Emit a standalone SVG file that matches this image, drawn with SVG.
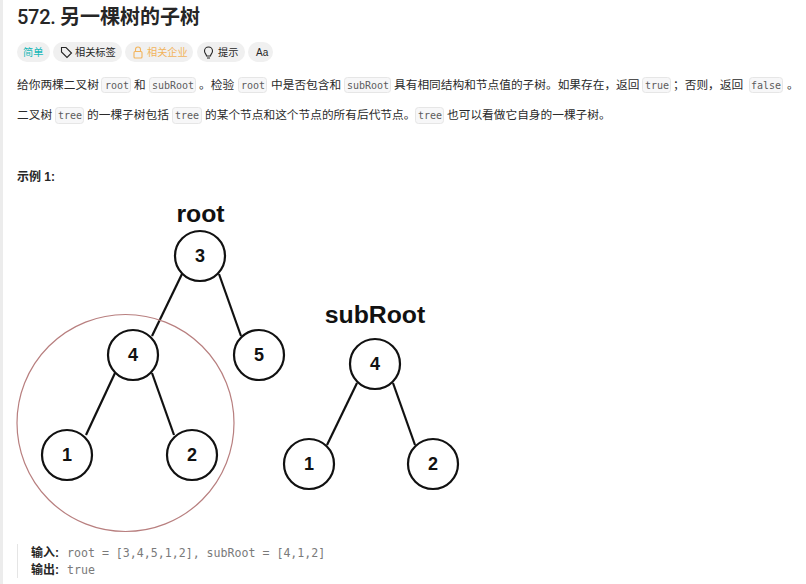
<svg xmlns="http://www.w3.org/2000/svg" width="806" height="584" viewBox="0 0 806 584">
<style>
text{font-family:"Liberation Sans","Noto Sans CJK SC",sans-serif;fill:#262626}
.p{font-size:11.7px;fill:#2a2a2a}
.c{font-family:"DejaVu Sans Mono","Liberation Mono",monospace;font-size:10px;fill:#5c5c5c}
.chip{fill:#f7f7f8;stroke:#e6e6e6;stroke-width:1}
.pill{fill:#f0f0f0}
.t{font-size:10.2px}
.n{fill:#fff;stroke:#111;stroke-width:2.2}
.e{stroke:#111;stroke-width:2.2;fill:none}
.l{font-size:18px;font-weight:700;fill:#111;text-anchor:middle}
.h{font-size:24.8px;font-weight:700;fill:#111;text-anchor:middle}
.m{font-family:"DejaVu Sans Mono","Liberation Mono",monospace;font-size:11.6px;fill:#7a7a7a}
.b{font-size:12px;font-weight:700;fill:#262626}
</style>
<rect width="806" height="584" fill="#fff"/>
<rect x="0" y="0" width="3" height="584" fill="#ececec"/>
<g id="title"><text x="17" y="24" font-size="20" font-weight="700" fill="#262626"><tspan style="font-family:Roboto,sans-serif;font-weight:500" letter-spacing="-0.3">572.</tspan><tspan x="60">另一棵树的子树</tspan></text></g>
<g id="tags">
<rect class="pill" x="17" y="42" width="33" height="20" rx="10"/><text class="t" x="23" y="56" style="fill:#17b8b8">简单</text>
<rect class="pill" x="53" y="42" width="69" height="20" rx="10"/>
<path d="M61.500 47.500h4.500l5.500 5.500-4.500 4.500-5.500-5.500z" fill="none" stroke="#262626" stroke-width="1.100"/>
<text class="t" x="75" y="56">相关标签</text>
<rect class="pill" x="125" y="42" width="68" height="20" rx="10"/>
<rect x="134" y="51.500" width="8" height="6.500" rx="1" fill="none" stroke="#f2b45c" stroke-width="1.100"/><path d="M135.500 51.500v-2a2.500 2.500 0 0 1 5 0v2" fill="none" stroke="#f2b45c" stroke-width="1.100"/>
<text class="t" x="147" y="56" style="fill:#f2b45c">相关企业</text>
<rect class="pill" x="197" y="42" width="48" height="20" rx="10"/>
<path d="M206.500 56c0-2-2-2.500-2-5a4 4 0 0 1 8 0c0 2.500-2 3-2 5zM207 58h3" fill="none" stroke="#262626" stroke-width="1.100"/>
<text class="t" x="218" y="56">提示</text>
<rect class="pill" x="248" y="42" width="25" height="20" rx="10"/>
<text x="256" y="56" font-size="10">Aa</text>
</g>
<g id="description">
<text class="p" x="17" y="89">给你两棵二叉树</text>
<rect class="chip" x="101.500" y="77.500" width="29" height="15" rx="3"/><text class="c" x="105" y="89">root</text>
<text class="p" x="134" y="89">和</text>
<rect class="chip" x="149.500" y="77.500" width="46" height="15" rx="3"/><text class="c" x="152" y="89">subRoot</text>
<text class="p" x="199" y="89">。检验</text>
<rect class="chip" x="238.500" y="77.500" width="28" height="15" rx="3"/><text class="c" x="241" y="89">root</text>
<text class="p" x="271" y="89">中是否包含和</text>
<rect class="chip" x="344.500" y="77.500" width="46" height="15" rx="3"/><text class="c" x="347" y="89">subRoot</text>
<text class="p" x="394" y="89">具有相同结构和节点值的子树。如果存在，返回</text>
<rect class="chip" x="642.500" y="77.500" width="28" height="15" rx="3"/><text class="c" x="645" y="89">true</text>
<text class="p" x="673" y="89">；否则，返回</text>
<rect class="chip" x="749.500" y="77.500" width="33" height="15" rx="3"/><text class="c" x="751" y="89">false</text>
<text class="p" x="787" y="89">。</text>
<text class="p" x="17" y="119">二叉树</text>
<rect class="chip" x="55.500" y="107.500" width="28" height="16" rx="3"/><text class="c" x="58" y="119">tree</text>
<text class="p" x="87" y="119">的一棵子树包括</text>
<rect class="chip" x="172.500" y="107.500" width="29" height="16" rx="3"/><text class="c" x="175" y="119">tree</text>
<text class="p" x="205" y="119">的某个节点和这个节点的所有后代节点。</text>
<rect class="chip" x="415.500" y="107.500" width="28" height="16" rx="3"/><text class="c" x="418" y="119">tree</text>
<text class="p" x="447" y="119">也可以看做它自身的一棵子树。</text>
</g>
<text id="example" class="b" x="17" y="181">示例 1:</text>
<g id="connectors">
<line class="e" x1="182" y1="274" x2="152" y2="336"/>
<line class="e" x1="219" y1="274" x2="241" y2="336"/>
<line class="e" x1="115" y1="373" x2="86" y2="435"/>
<line class="e" x1="152" y1="373" x2="174" y2="435"/>
<line class="e" x1="357" y1="383" x2="327" y2="445"/>
<line class="e" x1="393" y1="383" x2="415" y2="445"/>
</g>
<circle id="highlight" cx="125.500" cy="423" r="108.500" fill="none" stroke="#b87f7f" stroke-width="1.200"/>
<text id="label-root" class="h" x="200.500" y="222">root</text>
<text id="label-subroot" class="h" x="375" y="323">subRoot</text>
<g id="node-3"><circle class="n" cx="200" cy="256" r="25"/><text class="l" x="200" y="262">3</text></g>
<g id="node-4"><circle class="n" cx="133" cy="355" r="25"/><text class="l" x="133" y="361">4</text></g>
<g id="node-5"><circle class="n" cx="259" cy="355" r="25"/><text class="l" x="259" y="361">5</text></g>
<g id="node-1"><circle class="n" cx="67" cy="455" r="25"/><text class="l" x="67" y="461">1</text></g>
<g id="node-2"><circle class="n" cx="192" cy="455" r="25"/><text class="l" x="192" y="461">2</text></g>
<g id="node-4b"><circle class="n" cx="375" cy="364" r="25"/><text class="l" x="375" y="370">4</text></g>
<g id="node-1b"><circle class="n" cx="309" cy="464" r="25"/><text class="l" x="309" y="470">1</text></g>
<g id="node-2b"><circle class="n" cx="433" cy="464" r="25"/><text class="l" x="433" y="470">2</text></g>
<g id="result">
<rect x="17" y="544" width="1" height="34" fill="#e5e5e5"/>
<text class="b" x="31" y="557">输入:</text><text class="m" x="67" y="557">root = [3,4,5,1,2], subRoot = [4,1,2]</text>
<text class="b" x="31" y="574">输出:</text><text class="m" x="67" y="574">true</text>
</g>
</svg>
